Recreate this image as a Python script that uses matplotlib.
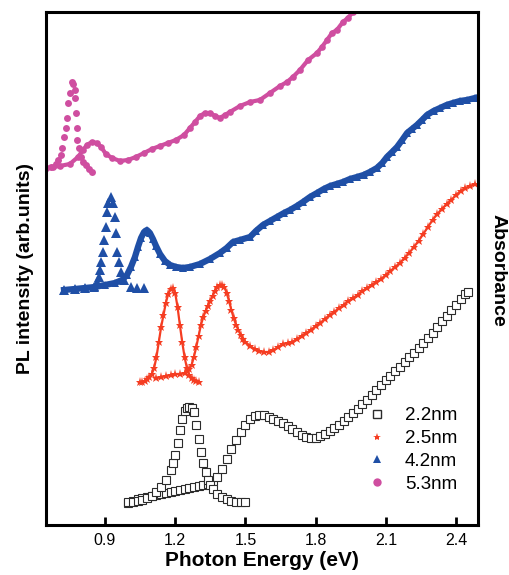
import matplotlib
matplotlib.use("Agg")
import matplotlib.pyplot as plt
from matplotlib.lines import Line2D

plt.rcParams["font.family"] = ["Liberation Sans", "DejaVu Sans"]

# photon energy (eV) and signal (arb. units) for each sample
pl_22_x = [1.00, 1.02, 1.04, 1.06, 1.08, 1.10, 1.12, 1.14, 1.16, 1.18, 1.19, 1.20, 1.21, 1.22,
           1.23, 1.24, 1.25, 1.26, 1.27, 1.28, 1.29, 1.30, 1.31, 1.32, 1.33, 1.34, 1.35, 1.36,
           1.38, 1.40, 1.42, 1.44, 1.46, 1.48, 1.50]
pl_22_y = [23, 23, 24, 25, 27, 29, 33, 38, 45, 55, 62, 70, 82, 95,
           106, 114, 117, 118, 117, 113, 100, 86, 73, 62, 53, 45, 40, 36,
           31, 28, 26, 24, 23, 23, 23]

abs_22_x = [1.00, 1.02, 1.04, 1.06, 1.08, 1.10, 1.12, 1.14, 1.16, 1.18, 1.20, 1.22, 1.24, 1.26,
            1.28, 1.30, 1.32, 1.34, 1.36, 1.38, 1.40, 1.42, 1.44, 1.46, 1.48, 1.50, 1.52, 1.54,
            1.56, 1.58, 1.60, 1.62, 1.64, 1.66, 1.68, 1.70, 1.72, 1.74, 1.76, 1.78, 1.80, 1.82,
            1.84, 1.86, 1.88, 1.90, 1.92, 1.94, 1.96, 1.98, 2.00, 2.02, 2.04, 2.06, 2.08, 2.10,
            2.12, 2.14, 2.16, 2.18, 2.20, 2.22, 2.24, 2.26, 2.28, 2.30, 2.32, 2.34, 2.36, 2.38,
            2.40, 2.42, 2.44, 2.45]
abs_22_y = [22, 24, 26, 27, 28, 29, 30, 31, 32, 33, 34, 35, 36, 37,
            38, 39, 40, 41, 44, 48, 56, 66, 76, 85, 93, 100, 106, 109,
            110, 110, 108, 106, 104, 102, 99, 96, 93, 90, 88, 87, 87, 89,
            91, 94, 97, 100, 104, 108, 112, 116, 121, 125, 130, 135, 140, 145,
            149, 154, 158, 163, 168, 172, 177, 182, 187, 192, 198, 204, 209, 215,
            220, 226, 231, 233]

pl_25_x = [1.05, 1.06, 1.07, 1.08, 1.09, 1.10, 1.11, 1.12, 1.13, 1.14, 1.15, 1.16, 1.17, 1.18,
           1.19, 1.20, 1.21, 1.22, 1.23, 1.24, 1.25, 1.26, 1.27, 1.28, 1.29, 1.30]
pl_25_y = [143, 143, 144, 146, 148, 151, 157, 168, 183, 198, 210, 222, 231, 236,
           237, 232, 218, 200, 183, 168, 157, 150, 147, 145, 144, 143]

abs_25_x = [1.12, 1.14, 1.16, 1.18, 1.20, 1.22, 1.24, 1.26, 1.27, 1.28, 1.29, 1.30, 1.31, 1.32,
            1.33, 1.34, 1.35, 1.36, 1.37, 1.38, 1.39, 1.40, 1.41, 1.42, 1.43, 1.44, 1.45, 1.46,
            1.47, 1.48, 1.49, 1.50, 1.52, 1.54, 1.56, 1.58, 1.60, 1.62, 1.64, 1.66, 1.68, 1.70,
            1.72, 1.74, 1.76, 1.78, 1.80, 1.82, 1.84, 1.86, 1.88, 1.90, 1.92, 1.94, 1.96, 1.98,
            2.00, 2.02, 2.04, 2.06, 2.08, 2.10, 2.12, 2.14, 2.16, 2.18, 2.20, 2.22, 2.24, 2.26,
            2.28, 2.30, 2.32, 2.34, 2.36, 2.38, 2.40, 2.42, 2.44, 2.46, 2.48]
abs_25_y = [147, 148, 149, 150, 151, 151, 152, 156, 160, 168, 178, 189, 200, 208,
            214, 219, 224, 229, 234, 238, 240, 240, 238, 232, 224, 215, 207, 200,
            195, 190, 186, 183, 179, 176, 174, 173, 173, 175, 178, 181, 182, 183,
            186, 189, 192, 195, 199, 202, 206, 210, 213, 217, 220, 224, 227, 230,
            234, 237, 240, 243, 246, 250, 254, 258, 262, 267, 272, 278, 284, 291,
            298, 305, 311, 316, 321, 325, 330, 334, 337, 339, 341]

pl_42_x = [0.725, 0.772, 0.815, 0.853, 0.867, 0.874, 0.879, 0.884, 0.893, 0.896, 0.903, 0.907,
           0.915, 0.924, 0.935, 0.943, 0.946, 0.953, 0.960, 0.967, 0.981, 1.010, 1.037, 1.067]
pl_42_y = [235, 236, 237, 238, 243, 248, 255, 263, 273, 285, 298, 313,
           322, 328, 322, 308, 292, 273, 263, 253, 245, 238, 237, 237]

abs_42_x = [0.725, 0.772, 0.815, 0.857, 0.900, 0.943, 0.973, 0.994, 1.011, 1.028, 1.041, 1.054,
            1.067, 1.079, 1.092, 1.105, 1.118, 1.135, 1.156, 1.178, 1.203, 1.233, 1.263, 1.306,
            1.349, 1.391, 1.420, 1.447, 1.477, 1.520, 1.545, 1.575, 1.605, 1.635, 1.665, 1.691,
            1.720, 1.746, 1.776, 1.806, 1.835, 1.862, 1.890, 1.917, 1.947, 1.977, 2.005, 2.032,
            2.062, 2.085, 2.105, 2.127, 2.148, 2.170, 2.191, 2.212, 2.233, 2.255, 2.276, 2.304,
            2.332, 2.360, 2.387, 2.417, 2.447, 2.481]
abs_42_y = [235, 236, 237, 238, 240, 242, 245, 250, 258, 268, 278, 287,
            293, 295, 292, 286, 279, 271, 264, 260, 258, 257, 258, 261,
            266, 272, 277, 283, 285, 288, 294, 300, 304, 308, 312, 315,
            319, 323, 328, 332, 336, 339, 341, 343, 346, 348, 350, 353,
            357, 362, 368, 373, 378, 385, 392, 396, 400, 405, 410, 414,
            417, 420, 422, 424, 425, 427]

pl_53_x = [0.650, 0.668, 0.690, 0.699, 0.711, 0.718, 0.725, 0.733, 0.736, 0.742, 0.750, 0.758,
           0.764, 0.770, 0.772, 0.775, 0.779, 0.782, 0.789, 0.796, 0.806, 0.818, 0.832, 0.846]
pl_53_y = [357, 358, 361, 365, 370, 377, 388, 397, 407, 422, 432, 443,
           441, 435, 427, 412, 397, 385, 377, 368, 363, 360, 356, 353]

abs_53_x = [0.650, 0.680, 0.708, 0.750, 0.785, 0.806, 0.823, 0.844, 0.866, 0.883, 0.904, 0.930,
            0.964, 0.998, 1.032, 1.067, 1.101, 1.135, 1.169, 1.203, 1.238, 1.263, 1.285, 1.306,
            1.327, 1.349, 1.370, 1.391, 1.413, 1.434, 1.477, 1.520, 1.562, 1.605, 1.648, 1.678,
            1.703, 1.733, 1.768, 1.806, 1.827, 1.849, 1.870, 1.891, 1.917, 1.938, 1.960]
abs_53_y = [357, 358, 359, 361, 368, 375, 380, 383, 382, 378, 371, 367,
            364, 365, 368, 372, 376, 379, 382, 385, 390, 397, 403, 409,
            412, 412, 409, 407, 410, 413, 419, 423, 425, 432, 439, 443,
            448, 455, 465, 472, 478, 485, 492, 495, 503, 507, 513]

labels = ["2.2nm", "2.5nm", "4.2nm", "5.3nm"]
colors = ["#2b2b2b", "#f53d22", "#1f4fa6", "#cf4ea0"]
markers = ["s", "*", "^", "o"]
xticks = [0.9, 1.2, 1.5, 1.8, 2.1, 2.4]

fig = plt.figure(figsize=(5.1, 5.75), dpi=100)
ax = fig.add_axes([0.0902, 0.087, 0.8471, 0.8922])

# 2.2 nm: open squares
ax.plot(abs_22_x, abs_22_y, ls="none", marker="s", ms=5.8, mfc="white", mec=colors[0], mew=0.8)
ax.plot(pl_22_x, pl_22_y, ls="none", marker="s", ms=5.8, mfc="white", mec=colors[0], mew=0.8)

# 2.5 nm: stars
ax.plot(abs_25_x, abs_25_y, color=colors[1], lw=1.6, marker="*", ms=6.5, mew=0)
ax.plot(pl_25_x, pl_25_y, color=colors[1], lw=1.6, marker="*", ms=6.5, mew=0)

# 4.2 nm: triangles
ax.plot(abs_42_x, abs_42_y, color=colors[2], lw=4.5, marker="^", ms=6, mew=0)
ax.plot(pl_42_x, pl_42_y, ls="none", color=colors[2], marker="^", ms=6.5, mew=0)

# 5.3 nm: circles
ax.plot(abs_53_x, abs_53_y, color=colors[3], lw=3.0, marker="o", ms=4.8, mew=0)
ax.plot(pl_53_x, pl_53_y, ls="none", color=colors[3], marker="o", ms=5, mew=0)

ax.set_xlim(0.648, 2.494)
ax.set_ylim(0, 513)
ax.set_xticks(xticks)
ax.set_xticklabels([f"{t:.1f}" for t in xticks])
ax.set_yticks([])
ax.tick_params(axis="x", direction="in", length=6, width=2, labelsize=11.5, pad=6)
for s in ax.spines.values():
    s.set_linewidth(2.2)

ax.set_xlabel("Photon Energy (eV)", fontsize=15, fontweight="bold", labelpad=2)
ax.set_ylabel("PL intensity (arb.units)", fontsize=14, fontweight="bold", labelpad=9)
fig.text(0.976, 0.53, "Absorbance", rotation=-90, fontsize=14, fontweight="bold",
         ha="center", va="center")

handles = []
for c, m in zip(colors, markers):
    if m == "s":
        h = Line2D([], [], ls="none", marker=m, ms=6, mfc="white", mec=c, mew=1)
    else:
        h = Line2D([], [], ls="none", marker=m, ms=6, color=c, mew=0)
    handles.append(h)
ax.legend(handles, labels, loc="lower left", bbox_to_anchor=(0.705, 0.03), frameon=False,
          fontsize=13.5, handlelength=1.0, handletextpad=1.0, labelspacing=0.3)

fig.savefig("out.png", dpi=100)
